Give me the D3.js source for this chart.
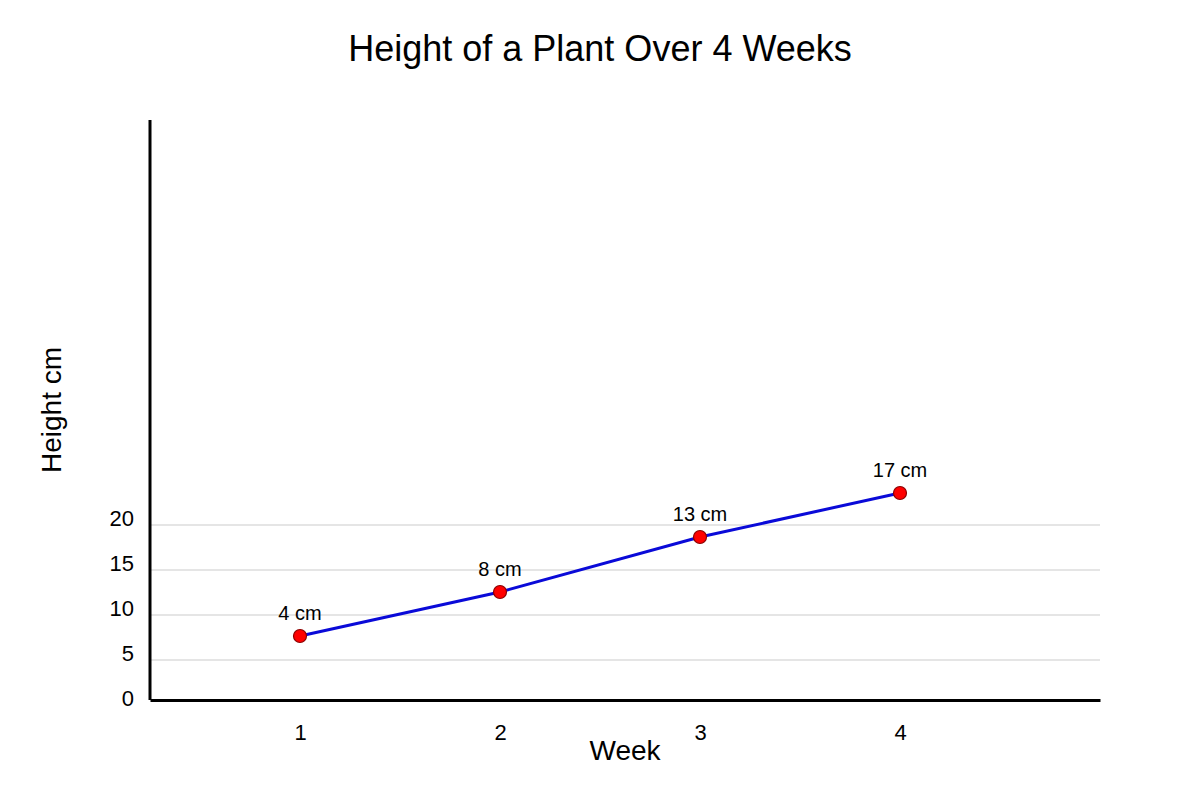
<!DOCTYPE html>
<html>
<head>
<meta charset="utf-8">
<script src="https://cdn.jsdelivr.net/npm/d3@7"></script>
<style>
  body { margin: 0; background: #fff; }
  text { font-family: "Liberation Sans", Arial, sans-serif; fill: #000; }
</style>
</head>
<body>
<div id="chart"></div>
<script>
// data
var weeks = [1, 2, 3, 4];
var heights = [4, 8, 13, 17];
var pointLabels = ["4 cm", "8 cm", "13 cm", "17 cm"];
var yTicks = [0, 5, 10, 15, 20];
var gridValues = [5, 10, 15, 20];

var w = 1200, h = 800;

var svg = d3.select("#chart").append("svg")
  .attr("width", w)
  .attr("height", h);

// x: week positions
var x = d3.scaleLinear().domain([0.25, 5]).range([150, 1100]);
// tick scale used by the labels/gridlines
var yTick = d3.scaleLinear().domain([0, 20]).range([705, 525]);
// the points in the original sit on their own scale
var yPt = d3.scaleLinear().domain([0, 20]).range([680, 460]);

// gridlines
svg.selectAll(".grid")
  .data(gridValues)
  .enter().append("line")
  .attr("class", "grid")
  .attr("x1", x.range()[0])
  .attr("x2", x.range()[1])
  .attr("y1", function(d) { return yTick(d); })
  .attr("y2", function(d) { return yTick(d); })
  .attr("stroke", "#dddddd")
  .attr("stroke-width", 1.5);

// y tick labels
var yAxis = svg.append("g")
  .attr("transform", "translate(150,0)")
  .call(d3.axisLeft(yTick).tickValues(yTicks).tickSize(0).tickPadding(16));
yAxis.select(".domain").remove();
yAxis.selectAll("text")
  .attr("dy", "0")
  .style("font-size", "22px")
  .style("font-family", "'Liberation Sans', Arial, sans-serif");

// y axis line
svg.append("line")
  .attr("x1", 150).attr("x2", 150)
  .attr("y1", 120).attr("y2", 700)
  .attr("stroke", "#000")
  .attr("stroke-width", 3);

// x axis
var xAxis = svg.append("g")
  .attr("transform", "translate(0,700)")
  .call(d3.axisBottom(x).tickValues(weeks).tickSize(0).tickSizeOuter(0).tickFormat(d3.format("d")));
xAxis.select(".domain")
  .attr("stroke", "#000")
  .attr("stroke-width", 3);
xAxis.selectAll("text")
  .attr("y", 40)
  .attr("dy", "0")
  .style("font-size", "22px")
  .style("font-family", "'Liberation Sans', Arial, sans-serif");

// line
var pts = weeks.map(function(d, i) { return {week: d, value: heights[i], label: pointLabels[i]}; });

var line = d3.line()
  .x(function(d) { return x(d.week); })
  .y(function(d) { return yPt(d.value); });

svg.append("path")
  .datum(pts)
  .attr("d", line)
  .attr("fill", "none")
  .attr("stroke", "#0a0ad8")
  .attr("stroke-width", 3);

svg.selectAll(".dot")
  .data(pts)
  .enter().append("circle")
  .attr("class", "dot")
  .attr("cx", function(d) { return x(d.week); })
  .attr("cy", function(d) { return yPt(d.value); })
  .attr("r", 6.5)
  .attr("fill", "#ff0000")
  .attr("stroke", "#8b0000")
  .attr("stroke-width", 1.2);

svg.selectAll(".plabel")
  .data(pts)
  .enter().append("text")
  .attr("class", "plabel")
  .attr("x", function(d) { return x(d.week); })
  .attr("y", function(d) { return yPt(d.value) - 16; })
  .attr("text-anchor", "middle")
  .style("font-size", "20px")
  .text(function(d) { return d.label; });

// title
svg.append("text")
  .attr("x", 600)
  .attr("y", 61)
  .attr("text-anchor", "middle")
  .style("font-size", "36px")
  .text("Height of a Plant Over 4 Weeks");

// axis titles
svg.append("text")
  .attr("x", 625)
  .attr("y", 760)
  .attr("text-anchor", "middle")
  .style("font-size", "28px")
  .text("Week");

svg.append("text")
  .attr("transform", "translate(61,410) rotate(-90)")
  .attr("text-anchor", "middle")
  .style("font-size", "28px")
  .text("Height cm");
</script>
</body>
</html>
